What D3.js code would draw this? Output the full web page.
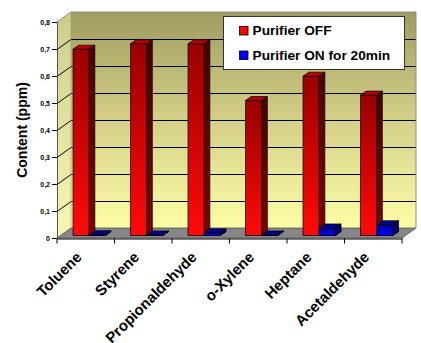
<!DOCTYPE html>
<html>
<head>
<meta charset="utf-8">
<script src="https://cdn.jsdelivr.net/npm/d3@7/dist/d3.min.js"></script>
<style>
  html, body { margin: 0; padding: 0; background: #fff; }
  svg { display: block; font-family: Arial, "Liberation Sans", sans-serif; }
</style>
</head>
<body>
<svg id="chart" width="421" height="343"></svg>
<script>
// Compounds measured
const categories = ["Toluene", "Styrene", "Propionaldehyde", "o-Xylene", "Heptane", "Acetaldehyde"];
// Series names
const seriesNames = ["Purifier OFF", "Purifier ON for 20min"];
// Concentrations (ppm)
const purifierOff = [0.69, 0.71, 0.71, 0.50, 0.59, 0.52];
const purifierOn  = [0.003, 0.002, 0.01, 0.002, 0.028, 0.04];
// Value axis ticks
const yTicks = [0, 0.1, 0.2, 0.3, 0.4, 0.5, 0.6, 0.7, 0.8];

const seriesValues = [purifierOff, purifierOn];

const svg = d3.select("#chart");
const defs = svg.append("defs");

// Plot geometry (front plane) and the 3-D depth offset
const pL = 57, pR = 402, pB = 238, pT = 22;
const DX = 14, DY = -10;          // full depth of the floor
const fFront = 0.25, fDepth = 0.4; // bar position / thickness within the depth

const x = d3.scaleBand().domain(categories).range([pL, pR]);
const xs = d3.scaleBand().domain(seriesNames).range([0, x.bandwidth()])
  .paddingInner(0).paddingOuter(0.77);
const y = d3.scaleLinear().domain([0, 0.8]).range([pB, pT]);

function lin(id, x1, y1, x2, y2, stops) {
  const g = defs.append("linearGradient").attr("id", id)
    .attr("x1", x1).attr("y1", y1).attr("x2", x2).attr("y2", y2);
  stops.forEach(s => g.append("stop").attr("offset", s[0]).attr("stop-color", s[1]));
}
lin("wallBack", 0, 0, 0, 1, [[0, "#a09c60"], [0.5, "#d4d088"], [1, "#fdfda6"]]);
lin("wallSide", 0, 0, 0, 1, [[0, "#cccc8c"], [1, "#f8f8b4"]]);
lin("redFront", 0, 0, 0, 1, [[0, "#9a0000"], [1, "#ff0a0a"]]);
lin("redSide", 0, 0, 0, 1, [[0, "#4a0000"], [1, "#800000"]]);
lin("blueFront", 0, 0, 0, 1, [[0, "#00009a"], [1, "#0000ff"]]);
lin("blueSide", 0, 0, 0, 1, [[0, "#000050"], [1, "#000080"]]);

const pts = a => a.map(p => p.join(",")).join(" ");

// Back wall
svg.append("polygon")
  .attr("points", pts([[pL + DX, pT + DY], [pR + DX, pT + DY], [pR + DX, pB + DY], [pL + DX, pB + DY]]))
  .attr("fill", "url(#wallBack)");
// Side wall
svg.append("polygon")
  .attr("points", pts([[pL, pT], [pL + DX, pT + DY], [pL + DX, pB + DY], [pL, pB]]))
  .attr("fill", "url(#wallSide)");
// Floor
svg.append("polygon")
  .attr("points", pts([[pL, pB], [pL + DX, pB + DY], [pR + DX, pB + DY], [pR, pB]]))
  .attr("fill", "#868686").attr("stroke", "#505050").attr("stroke-width", 0.8);

// Gridlines across side and back walls
const grid = svg.append("g").attr("stroke", "#000").attr("stroke-width", 1).attr("fill", "none");
yTicks.filter(t => t > 0 && t < 0.8).forEach(t => {
  const yy = Math.round(y(t)) + 0.5;
  grid.append("polyline")
    .attr("points", pts([[pL, yy], [pL + DX, yy + DY], [pR + DX, yy + DY]]));
});

// Wall outlines
svg.append("polyline")
  .attr("points", pts([[pL, pT], [pL + DX, pT + DY], [pR + DX, pT + DY], [pR + DX, pB + DY]]))
  .attr("fill", "none").attr("stroke", "#8c8c8c").attr("stroke-width", 1);
svg.append("line").attr("x1", pL + DX).attr("y1", pT + DY).attr("x2", pL + DX).attr("y2", pB + DY)
  .attr("stroke", "#a0a060").attr("stroke-width", 0.6);

// Value axis
const yAxis = d3.axisLeft(y).tickValues(yTicks).tickSize(5).tickPadding(2)
  .tickFormat(d => d === 0 ? "0" : d3.format(".1f")(d).replace(".", ","));
const ya = svg.append("g").attr("transform", `translate(${pL},0)`).call(yAxis);
ya.select(".domain").attr("stroke", "#555");
ya.selectAll(".tick line").attr("stroke", "#000");
ya.selectAll("text").attr("font-size", 7).attr("font-weight", "bold").attr("fill", "#000")
  .attr("font-family", "Arial, 'Liberation Sans', sans-serif");

// Category axis
const xAxis = d3.axisBottom(x).tickSize(0).tickFormat("");
const xa = svg.append("g").attr("transform", `translate(0,${pB + 0.5})`).call(xAxis);
xa.select(".domain").attr("stroke", "#000");
const bounds = categories.map(c => x(c)).concat([pR]);
xa.selectAll(".bound").data(bounds).join("line").attr("class", "bound")
  .attr("x1", d => d).attr("x2", d => d).attr("y1", 0).attr("y2", 5)
  .attr("stroke", "#000");

// Bars
const bars = svg.append("g").attr("stroke", "#000").attr("stroke-width", 0.7).attr("stroke-linejoin", "round");
const fx = fFront * DX, fy = fFront * DY, bx = fDepth * DX, by = fDepth * DY;
categories.forEach((c, ci) => {
  seriesNames.forEach((s, si) => {
    const v = seriesValues[si][ci];
    const x0 = x(c) + xs(s) + fx, x1 = x0 + xs.bandwidth();
    const yT = y(v) + fy, yB = y(0) + fy;
    const col = si === 0 ? "red" : "blue";
    const g = bars.append("g");
    g.append("polygon").attr("points", pts([[x0, yB], [x0 + bx, yB + by], [x1 + bx, yB + by], [x1, yB]]))
      .attr("fill", si === 0 ? "#600000" : "#000060");
    g.append("rect").attr("x", x0).attr("y", yT).attr("width", x1 - x0).attr("height", yB - yT)
      .attr("fill", `url(#${col}Front)`);
    g.append("polygon").attr("points", pts([[x1, yT], [x1 + bx, yT + by], [x1 + bx, yB + by], [x1, yB]]))
      .attr("fill", `url(#${col}Side)`);
    g.append("polygon").attr("points", pts([[x0, yT], [x0 + bx, yT + by], [x1 + bx, yT + by], [x1, yT]]))
      .attr("fill", si === 0 ? "#b80000" : "#00008c");
  });
});

// Category labels
svg.append("g").selectAll("text").data(categories).join("text")
  .attr("transform", d => `translate(${x(d) + x.bandwidth() / 2 - 3},${pB + 20}) rotate(-45)`)
  .attr("text-anchor", "end")
  .attr("font-size", 15).attr("font-weight", "bold").attr("fill", "#000")
  .text(d => d);

// Value axis title
svg.append("text")
  .attr("transform", `translate(27,130) rotate(-90)`)
  .attr("text-anchor", "middle")
  .attr("font-size", 14).attr("font-weight", "bold").attr("fill", "#000")
  .text("Content (ppm)");

// Legend
const lg = svg.append("g").attr("transform", "translate(223,16)");
lg.append("rect").attr("x", 0.5).attr("y", 0.5).attr("width", 181).attr("height", 53)
  .attr("fill", "#fff").attr("stroke", "#333").attr("stroke-width", 1);
const legendColors = ["#ff0000", "#0000ff"];
seriesNames.forEach((s, i) => {
  const row = lg.append("g").attr("transform", `translate(16.5,${10.5 + i * 24.5})`);
  row.append("rect").attr("width", 8.5).attr("height", 8.5).attr("fill", legendColors[i])
    .attr("stroke", "#000").attr("stroke-width", 0.8);
  row.append("text").attr("x", 13).attr("y", 8.6)
    .attr("font-size", 13.7).attr("font-weight", "bold").attr("fill", "#000").text(s);
});
</script>
</body>
</html>
